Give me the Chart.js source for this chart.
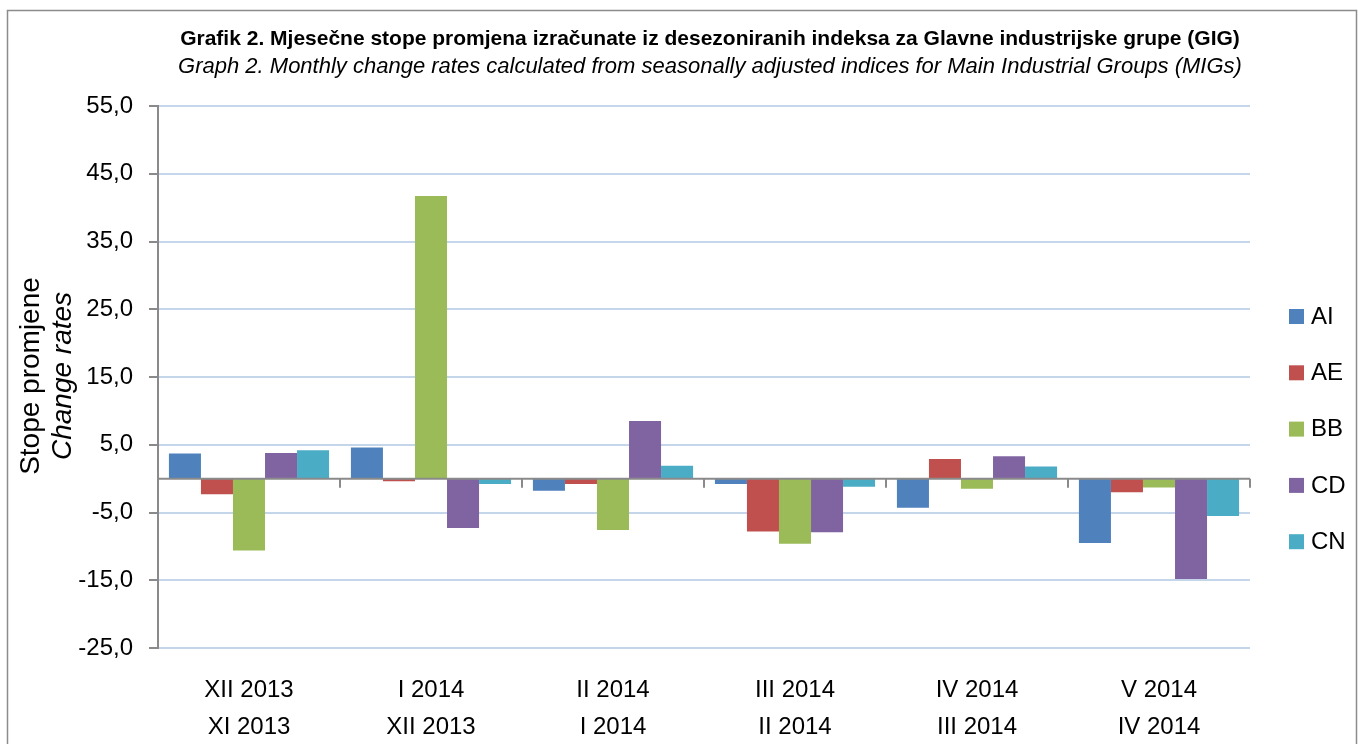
<!DOCTYPE html>
<html>
<head>
<meta charset="utf-8">
<script src="https://cdn.jsdelivr.net/npm/chart.js@4.4.1/dist/chart.umd.min.js"></script>
<style>
	html, body { margin: 0; padding: 0; background: #fff; }
	#wrap { position: relative; width: 1358px; height: 744px; }
</style>
</head>
<body>
<div id="wrap"><canvas id="chart-gig"></canvas></div>
<script>
// Grafik 2 - mjesecne stope promjena (GIG)

let labels = [
	['XII 2013', 'XI 2013'],
	['I 2014', 'XII 2013'],
	['II 2014', 'I 2014'],
	['III 2014', 'II 2014'],
	['IV 2014', 'III 2014'],
	['V 2014', 'IV 2014']
]
let seriesNames = ['AI', 'AE', 'BB', 'CD', 'CN']
let valAI = [3.7, 4.6, -1.8, -0.8, -4.3, -9.5]
let valAE = [-2.3, -0.4, -0.8, -7.8, 2.9, -2.0]
let valBB = [-10.6, 41.7, -7.6, -9.6, -1.5, -1.3]
let valCD = [3.8, -7.3, 8.5, -7.9, 3.3, -14.8]
let valCN = [4.2, -0.8, 1.9, -1.2, 1.8, -5.5]
let yTicks = [-25, -15, -5, 5, 15, 25, 35, 45, 55]

let colors = ['#4f81bd', '#c0504d', '#9bbb59', '#8064a2', '#4bacc6']
let FONT = "'Liberation Sans', Arial, sans-serif"

let titleText = 'Grafik 2. Mjesečne stope promjena izračunate iz desezoniranih indeksa za Glavne industrijske grupe (GIG)'
let subtitleText = 'Graph 2. Monthly change rates calculated from seasonally adjusted indices for Main Industrial Groups (MIGs)'

let data = {
	labels: labels,
	datasets: [valAI, valAE, valBB, valCD, valCN].map((v, i) => ({
		label: seriesNames[i],
		data: v,
		backgroundColor: colors[i],
		borderWidth: 0,
		categoryPercentage: 0.88,
		barPercentage: 1.0
	}))
}

// titles, axis title, legend, frame
let decorations = {
	id: 'decorations',
	afterDraw(chart) {
		let ctx = chart.ctx
		let area = chart.chartArea
		let y = chart.scales.y
		ctx.save()

		// frame
		ctx.strokeStyle = '#8c8c8c'
		ctx.lineWidth = 1.5
		ctx.strokeRect(7.5, 10.5, 1349, 760)

		// zero line and category ticks
		let y0 = y.getPixelForValue(0)
		ctx.strokeStyle = '#8a8a8a'
		ctx.lineWidth = 2
		ctx.beginPath()
		ctx.moveTo(area.left, y0)
		ctx.lineTo(area.right, y0)
		let step = (area.right - area.left) / labels.length
		for (let i = 0; i <= labels.length; i++) {
			let px = Math.round(area.left + i * step)
			ctx.moveTo(px, y0)
			ctx.lineTo(px, y0 + 9)
		}
		ctx.stroke()

		// titles
		ctx.fillStyle = '#000'
		ctx.textAlign = 'center'
		ctx.textBaseline = 'middle'
		let cx = 710
		ctx.font = 'bold 21px ' + FONT
		ctx.fillText(titleText, cx, 39)
		ctx.font = 'italic 22px ' + FONT
		ctx.fillText(subtitleText, cx, 67)

		// y axis title
		let cy = 376
		ctx.save()
		ctx.translate(31, cy)
		ctx.rotate(-Math.PI / 2)
		ctx.font = '28px ' + FONT
		ctx.fillText('Stope promjene', 0, 0)
		ctx.restore()
		ctx.save()
		ctx.translate(63, cy)
		ctx.rotate(-Math.PI / 2)
		ctx.font = 'italic 28px ' + FONT
		ctx.fillText('Change rates', 0, 0)
		ctx.restore()

		// legend
		ctx.textAlign = 'left'
		ctx.font = '24px ' + FONT
		chart.data.datasets.forEach((ds, i) => {
			let ly = 316 + i * 56.3
			ctx.fillStyle = ds.backgroundColor
			ctx.fillRect(1289, ly - 7, 15, 15)
			ctx.fillStyle = '#000'
			ctx.fillText(ds.label, 1311, ly + 1)
		})
		ctx.restore()
	}
}

let buildChart = (element, type, data) => {
	let canvas = document.querySelector(element)
	return new Chart(canvas, {
		type,
		data,
		options: {
			responsive: true,
			maintainAspectRatio: false,
			animation: false,
			devicePixelRatio: 1,
			layout: {
				padding: { top: 106, left: 70, right: 108, bottom: 0 }
			},
			plugins: {
				legend: { display: false },
				title: { display: false },
				tooltip: { enabled: false }
			},
			scales: {
				x: {
					afterFit: (scale) => { scale.height = 96 },
					grid: { display: false, drawTicks: false },
					border: { display: false },
					ticks: {
						color: '#000',
						padding: 24,
						font: { family: FONT, size: 24, lineHeight: 1.54 },
						maxRotation: 0,
						autoSkip: false
					}
				},
				y: {
					min: -25,
					max: 55,
					afterBuildTicks: (scale) => {
						scale.ticks = yTicks.map(v => ({ value: v }))
					},
					afterFit: (scale) => { scale.width = 158 - 70 },
					grid: {
						color: '#c5d5ea',
						lineWidth: 2,
						tickLength: 9,
						tickColor: '#8a8a8a'
					},
					border: { display: true, color: '#8a8a8a', width: 2 },
					ticks: {
						color: '#000',
						padding: 16,
						font: { family: FONT, size: 24 },
						callback: (v) => v.toFixed(1).replace('.', ',')
					}
				}
			}
		},
		plugins: [decorations]
	})
}

var gigChart = buildChart('#chart-gig', 'bar', data)
</script>
</body>
</html>
